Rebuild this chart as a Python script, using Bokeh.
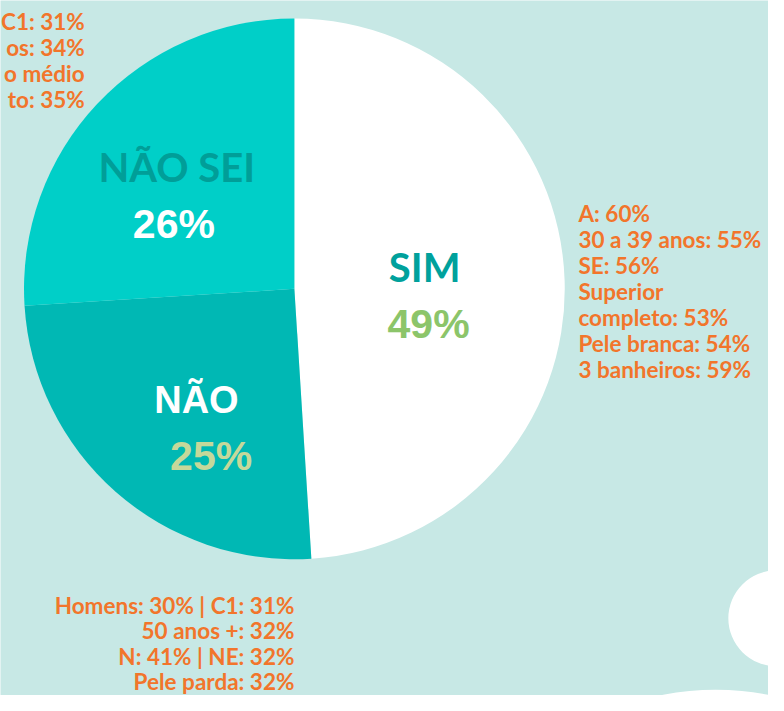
import numpy as np
from bokeh.plotting import figure
from bokeh.models import Range1d
from bokeh.core.properties import value
from bokeh.embed import file_html
from bokeh.resources import INLINE

# ---- data ----
categories = ["SIM", "NÃO", "NÃO SEI"]
shares = [49, 25, 26]
share_labels = ["49%", "25%", "26%"]
sim_notes = ["A: 60%", "30 a 39 anos: 55%", "SE: 56%", "Superior",
             "completo: 53%", "Pele branca: 54%", "3 banheiros: 59%"]
nao_notes = ["Homens: 30% | C1: 31%", "50 anos +: 32%",
             "N: 41% | NE: 32%", "Pele parda: 32%"]
naosei_notes = ["C1: 31%", "os: 34%", "o médio", "to: 35%"]

# ---- styles ----
BG = "#C7E8E5"
slice_colors = ["#FFFFFF", "#00B8B4", "#00CFC8"]
ORANGE = "#F2752B"
NOTE_SIZE = "22.5px"

W, H = 784, 711
def Y(v):
    return H - v

p = figure(width=768, height=695, x_range=Range1d(0, W), y_range=Range1d(0, H),
           output_backend="svg", toolbar_location=None, min_border=0,
           x_axis_location=None, y_axis_location=None)
p.grid.visible = False
p.outline_line_color = None
p.background_fill_color = BG
p.border_fill_color = BG

# decorative white shapes
p.ellipse(x=[792], y=[Y(632)], width=[98], height=[98], fill_color="white", line_color=None)
p.ellipse(x=[730], y=[Y(979)], width=[548], height=[548], fill_color="white", line_color=None)

# pie
frac = np.array(shares, dtype=float) / sum(shares)
cum = np.concatenate([[0], np.cumsum(frac)])
start = np.pi / 2 - 2 * np.pi * cum[1:]
end = np.pi / 2 - 2 * np.pi * cum[:-1]
cx, cy, r = 300, Y(295), 276
p.wedge(x=cx, y=cy, radius=r, start_angle=start, end_angle=end,
        fill_color=slice_colors, line_color=None)

# slice labels
p.text(x=[433], y=[Y(273)], text=[categories[0]], text_font=value("Lato"), text_font_style="bold",
       text_font_size="40px", text_color="#00A19C", text_align="center", text_baseline="middle")
p.text(x=[437], y=[Y(331)], text=[share_labels[0]], text_font=value("Liberation Sans"), text_font_style="bold",
       text_font_size="41px", text_color="#8CC56A", text_align="center", text_baseline="middle")
p.text(x=[200], y=[Y(409)], text=[categories[1]], text_font=value("Liberation Sans"), text_font_style="bold",
       text_font_size="38px", text_color="white", text_align="center", text_baseline="middle")
p.text(x=[215], y=[Y(466)], text=[share_labels[1]], text_font=value("Liberation Sans"), text_font_style="bold",
       text_font_size="41px", text_color="#C5D89A", text_align="center", text_baseline="middle")
p.text(x=[180], y=[Y(170)], text=[categories[2]], text_font=value("Lato"), text_font_style="bold",
       text_font_size="40px", text_color="#009E98", text_align="center", text_baseline="middle")
p.text(x=[177], y=[Y(229)], text=[share_labels[2]], text_font=value("Liberation Sans"), text_font_style="bold",
       text_font_size="41px", text_color="white", text_align="center", text_baseline="middle")

# notes
p.text(x=[590] * len(sim_notes), y=[Y(218 + i * 26.5) for i in range(len(sim_notes))], text=sim_notes,
       text_font=value("Lato"), text_font_style="bold", text_font_size=NOTE_SIZE, text_color=ORANGE,
       text_align="left", text_baseline="middle")
p.text(x=[300] * len(nao_notes), y=[Y(619 + i * 26) for i in range(len(nao_notes))], text=nao_notes,
       text_font=value("Lato"), text_font_style="bold", text_font_size=NOTE_SIZE, text_color=ORANGE,
       text_align="right", text_baseline="middle")
p.text(x=[86] * len(naosei_notes), y=[Y(21 + i * 26.7) for i in range(len(naosei_notes))], text=naosei_notes,
       text_font=value("Lato"), text_font_style="bold", text_font_size=NOTE_SIZE, text_color=ORANGE,
       text_align="right", text_baseline="middle")

open("out.html", "w").write(file_html(p, INLINE))
